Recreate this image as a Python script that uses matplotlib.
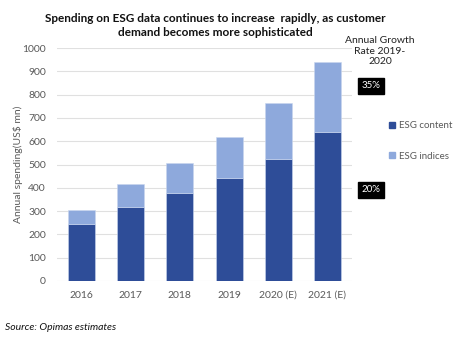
import matplotlib
matplotlib.use("Agg")
import matplotlib.pyplot as plt
from matplotlib.patches import Patch

years = ["2016", "2017", "2018", "2019", "2020 (E)", "2021 (E)"]
esg_content = [245, 318, 377, 440, 525, 638]
esg_indices = [60, 97, 128, 177, 240, 302]
growth_labels = ["35%", "20%"]

dark = "#2E4D98"
light = "#8EA9DC"
gray = "#595959"

plt.rcParams['font.family'] = ['Lato', 'DejaVu Sans']

W, H = 460, 345
fig = plt.figure(figsize=(W / 100, H / 100), dpi=100)
ax = fig.add_axes([57 / W, 1 - 281 / H, (352 - 57) / W, (281 - 48) / H])

x = range(len(years))
ax.bar(x, esg_content, width=0.55, color=dark, edgecolor="#C9D6EE", linewidth=0.4, zorder=3)
ax.bar(x, esg_indices, bottom=esg_content, width=0.55, color=light, edgecolor="#C9D6EE",
       linewidth=0.4, zorder=3)

ax.set_xlim(-0.5, 5.5)
ax.set_ylim(0, 1000)
ax.set_yticks(range(0, 1001, 100))
ax.set_xticks(list(x))
ax.set_xticklabels(years)
ax.grid(axis="y", color="#E0E0E0", linewidth=0.8, zorder=0)
for s in ax.spines.values():
    s.set_visible(False)
ax.tick_params(length=0, labelsize=7.5, colors=gray, pad=8)
ax.tick_params(axis="x", pad=7)
ax.set_ylabel("Annual spending(US$ mn)", fontsize=7.5, color=gray)
ax.yaxis.set_label_coords((23 - 57) / (352 - 57), 0.5)

fig.text(215 / W, 1 - 18 / H, "Spending on ESG data continues to increase  rapidly, as customer",
         ha="center", va="center", fontsize=8.5, fontweight="bold", color="#111111")
fig.text(215 / W, 1 - 33 / H, "demand becomes more sophisticated",
         ha="center", va="center", fontsize=8.5, fontweight="bold", color="#111111")

fig.text(380 / W, 1 - 51 / H, "Annual Growth\nRate 2019-\n2020", ha="center", va="center",
         fontsize=7.5, color="#222222", linespacing=1.15)

for lab, yy in zip(growth_labels, [86, 190]):
    fig.text(371 / W, 1 - yy / H, lab, ha="center", va="center", fontsize=7, color="white",
             bbox=dict(boxstyle="square,pad=0.4", facecolor="black", edgecolor="black"))

handles = [Patch(color=dark, label="ESG content"), Patch(color=light, label="ESG indices")]
leg = fig.legend(handles=handles, loc="center left", bbox_to_anchor=(380 / W, 1 - 141 / H),
                 frameon=False, fontsize=7, labelcolor=gray, handlelength=0.6, handleheight=0.6,
                 handletextpad=0.5, labelspacing=2.2)

fig.text(5 / W, 1 - 327 / H, "Source: Opimas estimates", ha="left", va="center",
         fontsize=7.5, style="italic", color="#111111")

fig.savefig("out.png", dpi=100)
